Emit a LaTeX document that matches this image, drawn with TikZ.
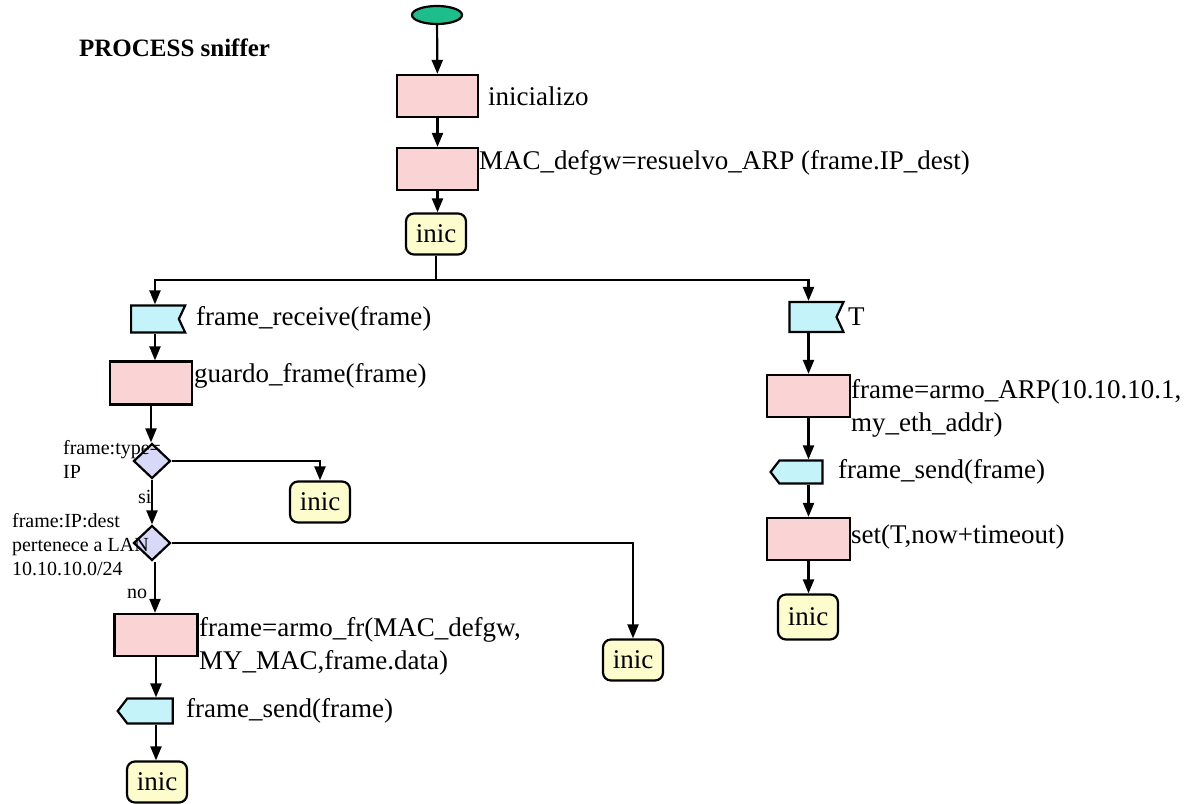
\documentclass[tikz,border=0pt]{standalone}
\usepackage{fontspec}
\setmainfont{Liberation Serif}
\usetikzlibrary{shapes.geometric,shapes.symbols,arrows.meta}
\definecolor{boxpink}{RGB}{250,212,212}
\definecolor{sigcyan}{RGB}{196,244,250}
\definecolor{inicyellow}{RGB}{252,252,204}
\definecolor{diamlav}{RGB}{216,216,248}
\definecolor{startgreen}{RGB}{30,190,140}
\begin{document}
\begin{tikzpicture}[x=1pt,y=-1pt,line width=2.2pt,
  every node/.style={font=\fontsize{27}{33}\selectfont},
  task/.style={draw, fill=boxpink, minimum width=81pt, minimum height=42pt, inner sep=0pt},
  inicbox/.style={draw, fill=inicyellow, rounded corners=8pt, minimum width=60pt, minimum height=41pt, inner sep=0pt},
  recv/.style={draw, fill=sigcyan, shape=signal, signal to=nowhere, signal from=east, signal pointer angle=130, minimum width=54pt, minimum height=27pt, inner sep=0pt},
  sendsig/.style={draw, fill=sigcyan, shape=signal, signal to=west, signal from=nowhere, signal pointer angle=105, minimum width=54pt, minimum height=25pt, inner sep=0pt},
  dec/.style={draw, fill=diamlav, shape=diamond, minimum width=37pt, minimum height=35pt, inner sep=0pt},
  lbl/.style={anchor=west, inner sep=0pt, align=left},
  small/.style={anchor=west, inner sep=0pt, align=left, font=\fontsize{20}{24}\selectfont},
  arr/.style={-{Triangle[length=14pt,width=11pt]}}
]
\useasboundingbox (0,0) rectangle (1196,803);

% title
\node[anchor=west, inner sep=0pt, font=\fontsize{25}{30}\selectfont\bfseries] (title) at (78,48) {PROCESS sniffer};

% main column
\node[draw, fill=startgreen, ellipse, minimum width=50pt, minimum height=18pt, inner sep=0pt] (start) at (437,15) {};
\node[task] (b1) at (437.5,96) {};
\node[lbl] (t1) at (487,96) {inicializo};
\node[task] (b2) at (437.5,169) {};
\node[lbl] (t2) at (478,163) {MAC\_defgw=resuelvo\_ARP (frame.IP\_dest)};
\node[inicbox] (i1) at (436,234) {inic};
\coordinate (split) at (436,280);

% left branch
\node[recv] (r1) at (155,319) {};
\node[lbl] (t3) at (195,319) {frame\_receive(frame)};
\node[task, minimum width=82pt, minimum height=43pt] (b3) at (151,383) {};
\node[lbl] (t4) at (193,376) {guardo\_frame(frame)};
\node[dec] (d1) at (152,461) {};
\node[small] (q1) at (62,459) {frame:type=\\IP};
\node[inicbox] (i2) at (320,502) {inic};
\node[small] (si) at (137,497) {si};
\node[dec] (d2) at (152,543) {};
\node[small] (q2) at (11,545) {frame:IP:dest\\pertenece a LAN\\10.10.10.0/24};
\node[inicbox] (i3) at (633,660) {inic};
\node[small] (no) at (126,594) {no};
\node[task, minimum width=83pt] (b4) at (156,635) {};
\node[lbl] (t5) at (198,646) {frame=armo\_fr(MAC\_defgw,\\MY\_MAC,frame.data)};
\node[sendsig, minimum width=55pt] (s1) at (150,711) {};
\node[lbl] (t6) at (185,711) {frame\_send(frame)};
\node[inicbox] (i4) at (157,782) {inic};

% right branch
\node[recv, minimum height=30pt] (r2) at (813,317) {};
\node[lbl] (t7) at (847,317) {T};
\node[task, minimum width=83pt] (b5) at (808.5,396) {};
\node[lbl] (t8) at (850,408) {frame=armo\_ARP(10.10.10.1,\\my\_eth\_addr)};
\node[sendsig, minimum width=52pt, minimum height=23pt] (s2) at (801,472) {};
\node[lbl] (t9) at (837,472) {frame\_send(frame)};
\node[task, minimum width=83pt] (b6) at (808.5,539) {};
\node[lbl] (t10) at (850,537) {set(T,now+timeout)};
\node[inicbox, minimum height=45pt] (i5) at (808,617) {inic};

% connectors
\draw[arr] (start) -- (b1);
\draw[arr] (b1) -- (b2);
\draw[arr] (b2) -- (b2.south |- i1.north);
\draw (i1) -- (split);
\draw[arr] (split) -| (r1.north);
\draw[arr] (split) -| (r2.north -| b5.north);
\draw[arr] (r1.south) -- (r1.south |- b3.north);
\draw[arr] (b3.south) -- (b3.south |- d1.north);
\draw[arr] (d1.east) -| (i2.north);
\draw[arr] (d1.south) -- (d2.north);
\draw[arr] (d2.east) -| (i3.north);
\draw[arr] ([xshift=3pt]d2.south) -- ([xshift=3pt]d2.south |- b4.north);
\draw[arr] (b4.south) -- (b4.south |- s1.north);
\draw[arr] (s1.south -| b4.south) -- (b4.south |- i4.north);
\draw[arr] (r2.south -| b5.north) -- (b5.north);
\draw[arr] (b5.south) -- (b5.south |- s2.north);
\draw[arr] (s2.south -| b5.south) -- (b6.north);
\draw[arr] (b6.south) -- (b6.south |- i5.north);
\end{tikzpicture}
\end{document}
